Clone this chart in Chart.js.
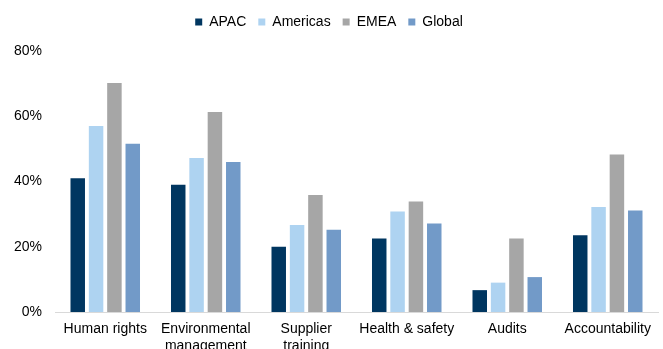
<!DOCTYPE html>
<html>
<head>
<meta charset="utf-8">
<script src="https://cdn.jsdelivr.net/npm/chart.js@4"></script>
<style>
  html, body { margin: 0; padding: 0; background: #fff; overflow: hidden; }
  #wrap { width: 663px; height: 349px; position: relative; }
</style>
</head>
<body>
<div id="wrap"><canvas id="c"></canvas></div>
<script>
const categories = ['Human rights', ['Environmental', 'management'], ['Supplier', 'training'], 'Health & safety', 'Audits', 'Accountability'];
const apac     = [41, 39, 20, 22.5, 6.7, 23.5];
const americas = [57, 47.2, 26.7, 30.8, 9, 32.2];
const emea     = [70.2, 61.3, 35.9, 33.9, 22.5, 48.3];
const global   = [51.6, 46, 25.2, 27.1, 10.7, 31.1];
const yTicks   = [0, 20, 40, 60, 80];

const colors = { apac: '#003660', americas: '#aed3f1', emea: '#a6a6a6', global: '#729ac8' };

Chart.defaults.font.family = '"Liberation Sans", Arial, sans-serif';
Chart.defaults.font.size = 14;
Chart.defaults.color = '#000';

// extra room between the legend row and the plot area
const legendGap = {
  id: 'legendGap',
  afterInit(chart) {
    const legend = chart.legend;
    if (!legend) return;
    const fit = legend.fit;
    legend.fit = function () {
      fit.call(this);
      this.height += 12;
    };
  }
};

new Chart(document.getElementById('c'), {
  type: 'bar',
  data: {
    labels: categories,
    datasets: [
      { label: 'APAC', data: apac, backgroundColor: colors.apac },
      { label: 'Americas', data: americas, backgroundColor: colors.americas },
      { label: 'EMEA', data: emea, backgroundColor: colors.emea },
      { label: 'Global', data: global, backgroundColor: colors.global }
    ]
  },
  plugins: [legendGap],
  options: {
    responsive: true,
    maintainAspectRatio: false,
    animation: false,
    layout: { padding: { top: 3, right: 5, left: 0, bottom: 0 } },
    datasets: { bar: { categoryPercentage: 0.73, barPercentage: 0.79 } },
    plugins: {
      legend: {
        position: 'top',
        labels: { boxWidth: 7, boxHeight: 7, padding: 12, font: { size: 14 } }
      },
      tooltip: { enabled: false }
    },
    scales: {
      x: {
        grid: { display: false, drawTicks: false },
        border: { color: '#d9d9d9', width: 1 },
        ticks: { maxRotation: 0, autoSkip: false, padding: 9, font: { size: 14 } },
        afterFit(scale) { scale.height = 37; }
      },
      y: {
        min: 0,
        max: 80,
        afterBuildTicks(scale) { scale.ticks = yTicks.map(v => ({ value: v })); },
        grid: { display: false, drawTicks: false },
        border: { display: false },
        ticks: { padding: 13, callback: v => v + '%', font: { size: 14 } },
        afterFit(scale) { scale.width = 55; }
      }
    }
  }
});
</script>
</body>
</html>
